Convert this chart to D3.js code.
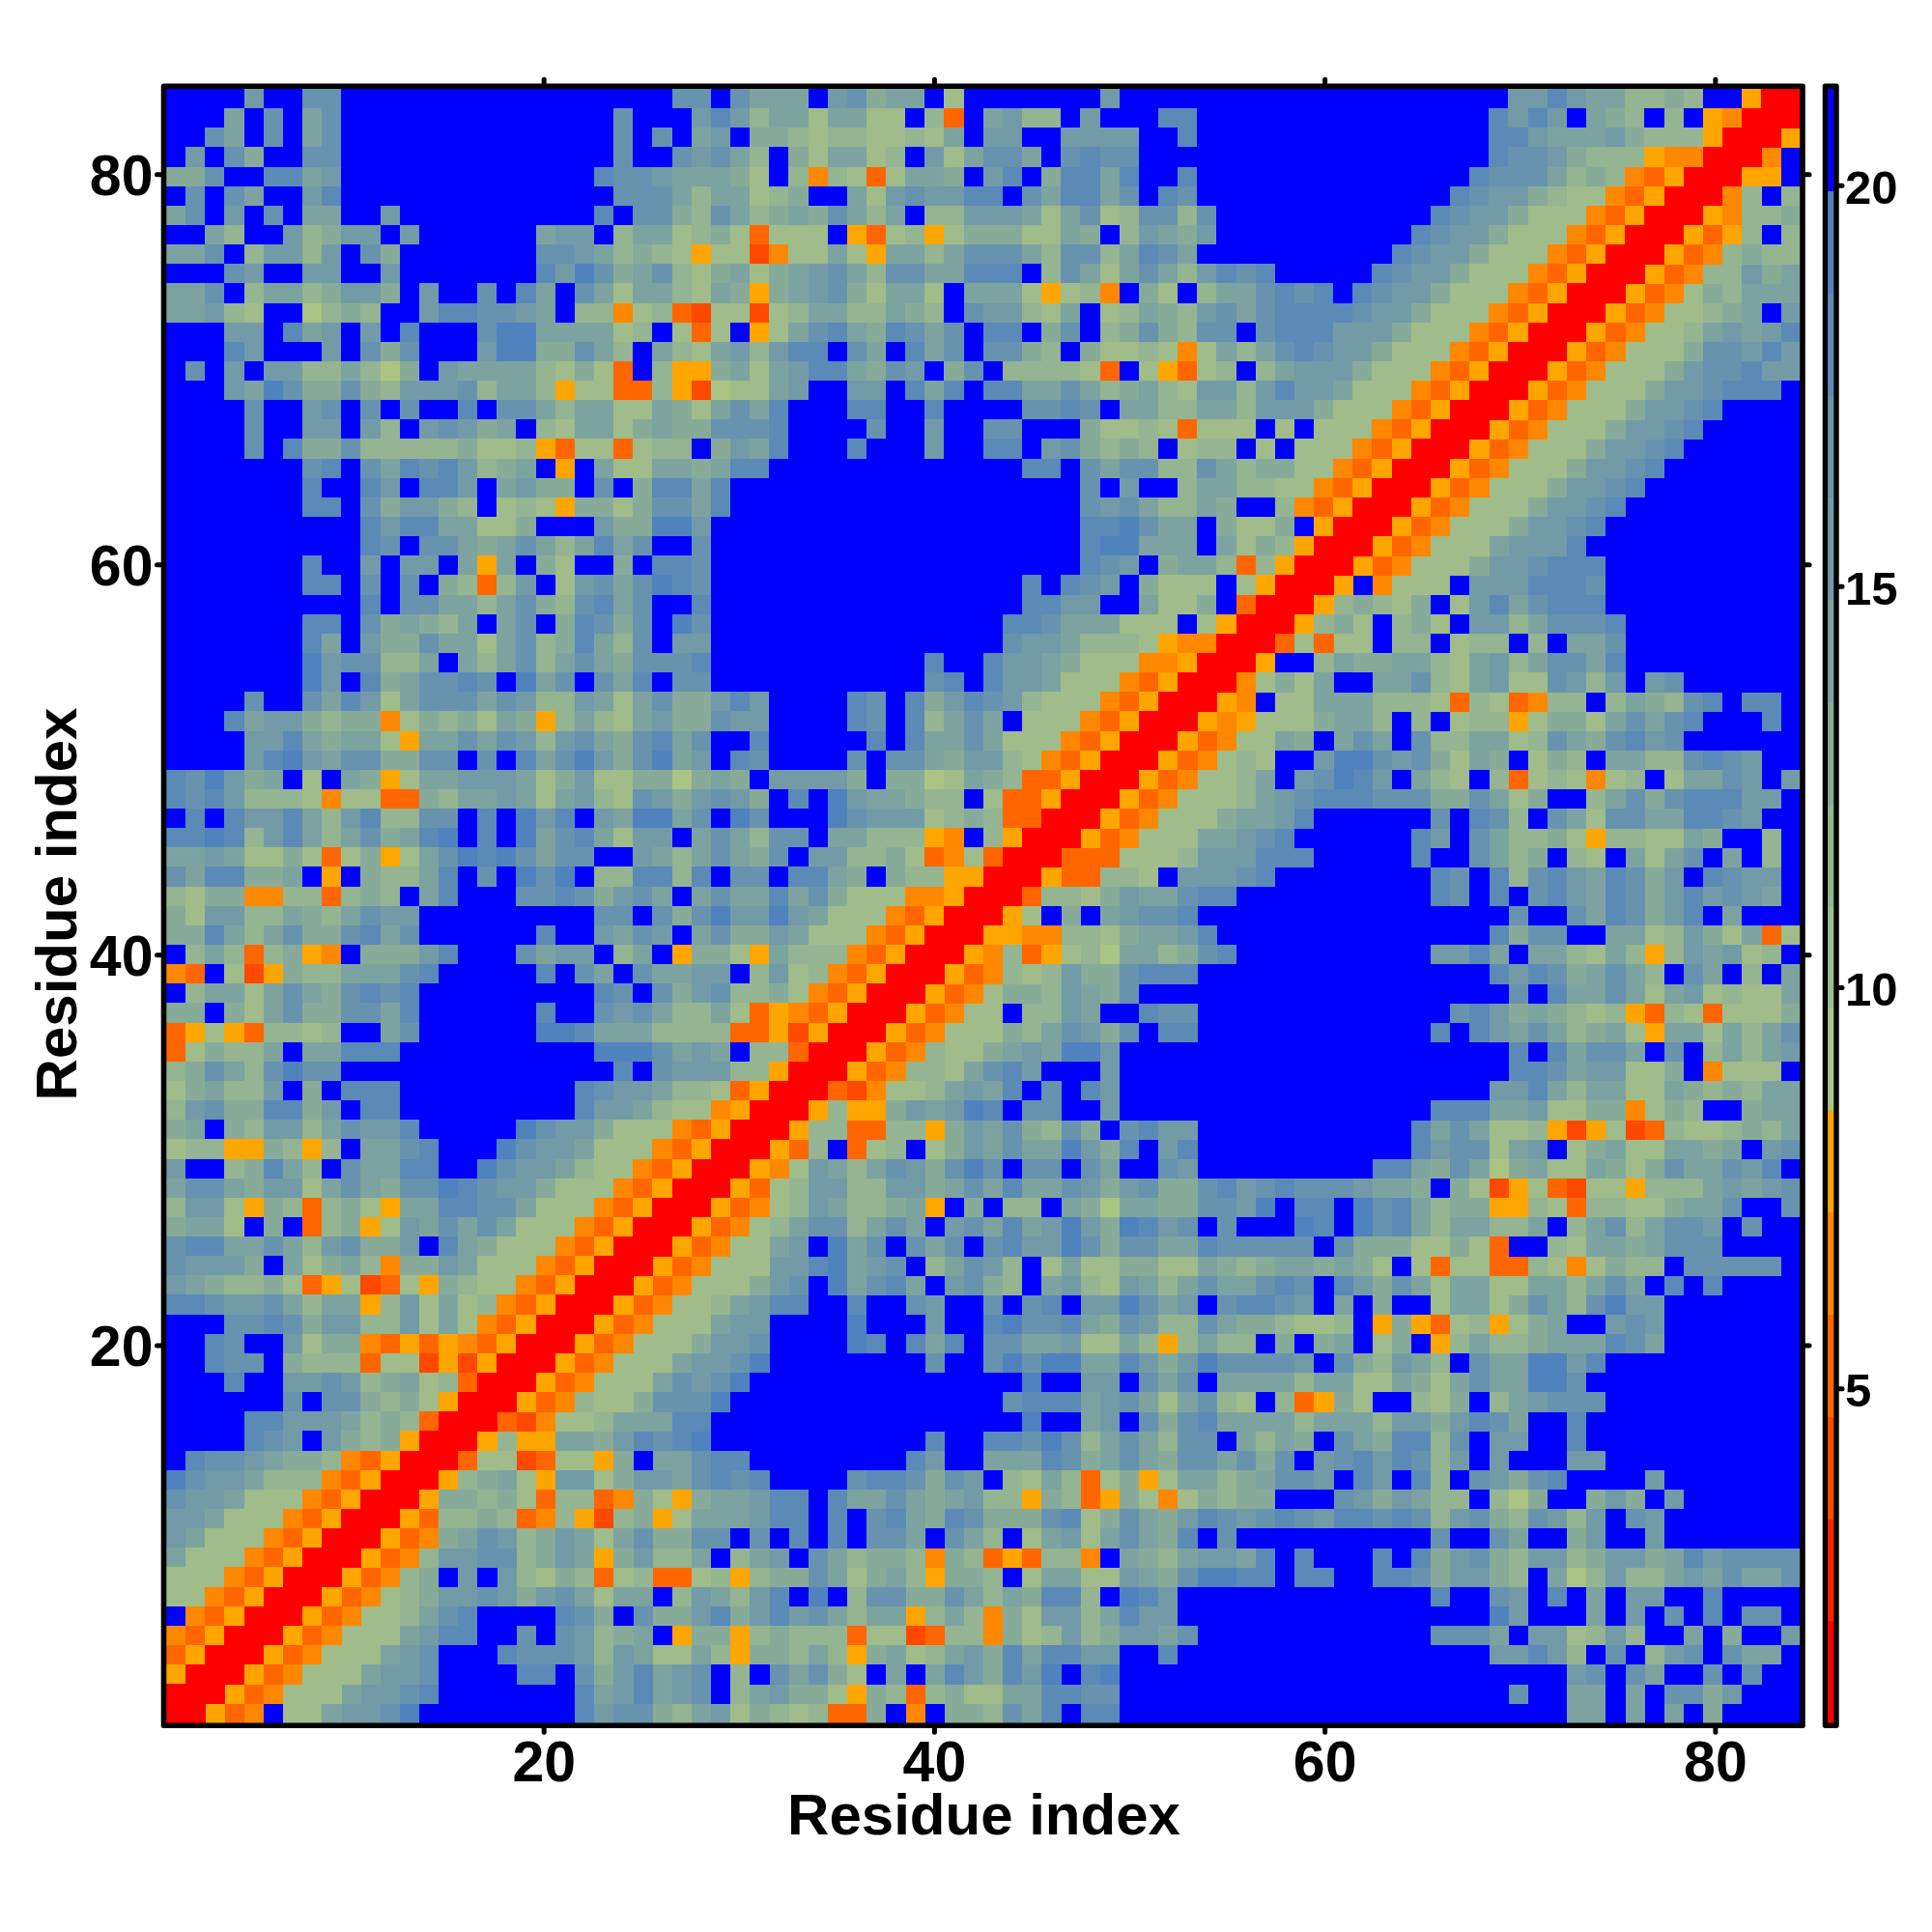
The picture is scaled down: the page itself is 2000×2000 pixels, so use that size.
<!DOCTYPE html>
<html>
<head>
<meta charset="utf-8">
<script src="https://cdn.jsdelivr.net/npm/d3@7"></script>
<style>
html, body { margin: 0; padding: 0; background: #fff; }
text { font-family: "Liberation Sans", Arial, sans-serif; font-weight: bold; fill: #000; }
</style>
</head>
<body>
<svg id="chart" width="2000" height="2000"></svg>
<script>
// one character per cell, one band of the colour key per character
var levelCodes = "rtsdef123456789b";
var xTicks = [20, 40, 60, 80];
var yTicks = [20, 40, 60, 80];
var keyTicks = [5, 10, 15, 20];
var keyRange = [0.83, 21.2];
var residues = d3.range(1, 85);

// upper-left half of the symmetric map, top row (residue 84) first
var rows = [
"bbbb6bb77b bbbbbbbbbb bbbbbb77b7 555b67455b 2bbbbbbb6b bbbbbbbbbb bbbbbbbbb6 6865533 43b bfrr",
"bbb5b7b57b bbbbbbbbbb bbb7bbb686 35525522b3 db5633b6bb b88bbbbbbb bbbbbbbb86 86b5 43b3bf err",
"bb75b7b57b bbbbbbbbbb bbb7b7b56b 4432332232 5b66bb6666 bb8bbbbbbb bbbbbbbb88 6555643 33f rr",
"b6b74bb77b bbbbbbbbbb bbb7bb7675 3b42552 3b6 2577 5b7877 bbbbbbbbbb bbbbbbbb87 7643 33feer r",
"447bb8856b bbbbbbbbbb bb87765554 2b3e32d255 4b68b48858 bb8bbbbbbb bbbbbbb877 75343edfrr",
"b7b75bb68b bbbbbbbbbb bbb7775355 234bb52676 688b758857 b87bbbbbbb bbbbbb8766 4322edfrr",
"57b6b7b55b b6bbbbbbbb bb8b774375 3454753 5b3 3666525723 7737bbbbbb bbbbb87664 222edfrr",
"bb53bb6346 6b6bbbbbb5 66b3552342 d222bfd23f 2444225 4b3 6546bbbbbb bbbb876642 22edfrr",
"557b36636b 74bbbbbbb7 7653432f22 se22 52f553 5777537735 875bbbbbbb bbb8766422 2edfrr",
"bbb76bb66b b6bbbbbbb8 6974573245 2456753775 5888b37525 7536878bbb bb87664222 edfrr",
"557b355346 64b6bb7b85 b752553254 f456742552 b5552f23eb 42b3557878 b876642 22e dfrr",
"5563 2bb134 3bb6887765 b33e23ds22 s235533543 b766325b23 5436757888 876642 22ed frr",
"bbb66b856b 6b8bbb7995 55523b2d2b f257854875 7b88b47b34 74377b7888 66642 22edf rr",
"bbb86bbb6b 747bbb6994 4753b53256 3688b75b85 7b7743b422 32e2535787 66422 2edfr r",
"b7b6b66335 314b655553 242db3ff45 2568854 76b 47b33332db 2fd23b3566 6422 2edfrr",
"bbb6597447 4366673553 f22dd3fs12 256bb66b85 8b88557534 5326636866 5222edfrr",
"bbbb7bb67b 7b7bb8b775 3552254257 58bbb88bb8 bbbb7787b5 5335536664 222edfrr",
"bbbb7bb66b 63b67645b3 2552454477 78bbbb7bb6 bb77bbb422 32d222b2b2 22edfrr",
"bbbb7b8447 333334223f d22d233b46 58bbb8bbb6 bb88b67434 3b233b2b22 2edfrr",
"bbbbbbb78b 7587863 45b fb52255458 8bbbbbbbbb bbbb88b757 7337534 422 edfrr",
"bbbbbbb8bb 86b886b564 4b7b4885 8b bbbbbbbbbb bbbbbbb7b6 bb35533 22e dfrr",
"bbbbbbb88b 746643b232 f44247758b bbbbbbbbbb bbbbbbb767 53354bb3ed frr",
"bbbbbbbbbb 86885 5224b bb64499 6bb bbbbbbbbbb bbbbbbb889 755b4224bf rr",
"bbbbbbbbbb 87b7754575 35857bb7bb bbbbbbbbbb bbbbbbb899 555b5243fr r",
"bbbbbbb8bb 6b66b5f5b4 2bb4b887bb bbbbbbbbbb bbbbbbb876 b4553d3frr",
"bbbbbbb88b 7b7b43d36b 2675798 7bb bbbbbbbbbb bbbb8b876b 4222b2frr",
"bbbbbbbbbb 8b77553574 37857bb8bb bbbbbbbbbb bbbb8866bb 5224bdrr",
"bbbbbbb88b 745435b57b 4874 7b97bb bbbbbbbbbb bbb8875552 22b2frr",
"bbbbbbb85b 6447552573 4853 7b66bb bbbbbbbbbb bbb7665333 2feerr",
"bbbbbbb967 7335b53573 5754777 8bb bbbbbbbbb8 bb86654222 eefrr",
"bbbbbbb96b 84577 87b95 7b758b77bb bbbbbbbbb7 8b8665222e dfrr",
"bbbb7bb758 6257775763 3652574468 6bbbb87b84 6876322 2ed frr",
"bbb8566434 4e2434254f 3532564476 6bbbb87b83 575b222edf rr",
"bbbb668545 52f5575763 6754785 7bb 8bbbbb8b85 575222edfr r",
"bbbb689657 74477b7b85 796479 56b8 7bbbb7b775 46632edfrr",
"879645b2b5 4f25566652 4622441454 b66664b441 2543ddfrr",
"8786333 2e2 2dd4355652 5632764676 4b8b965543 3b2ddfrr",
"b8b8668536 83377b8b96 8b65995 7b9 7bbb976662 343ddrr",
"8898368535 74589b8b95 785 266b575 377b55333f eb3frr",
"5565224 2d2 4f25798975 77bb653575 47b663342d e2drr",
"7588445bfb 43358b7b97 9b33883 8b7 7b8854b433 ffrr",
"3244ee33d3 43b58bbb77 87467 5b575 5857422 2ee frr",
"4266335435 766bbbbbbb bb77b74796 6965222edf rr",
"4485357447 857bbbbbb8 bb6576b574 46522 2edfr r",
"b353d34feb 44468bbb75 66b35bf442 f5333edfrr",
"edb2sf4335 5578bbbbb8 b75b755 66b 3623edfrr",
"b355257547 878bbbbbbb bb87b74673 342edfrr",
"44b4257447 758bbbbbb8 bb76753352 dfedfrr",
"df2fd3323b b57bbbbbb9 9855533 33d dfsfrr",
"d24335b558 88bbbbbbbb bb999756 5b 33drr",
"347537977b bbbbbbbbbb bbb8b76663 3frr",
"245336b4b8 88bbbbbbbb b87665 332d frr",
"367448846b 88bbbbbbbb b866532 2ef rr",
"45b4366357 668bbbbb97 664222edfr r",
"233ff43f3b 5578bbb976 652 22edfrr",
"6bb348 53b7 5588bb9766 5322edfrr",
"5775466257 5477987664 222edfrr",
"3662f43d34 2f55887752 22edfrr",
"4552b4bd34 f265757522 2edfrr",
"7885575367 446b854222 edfrr",
"76664b5245 3e4465222e dfrr",
"654334 2df2 sd2f4322ed frr",
"8876675355 f36252 3edf rr",
"bbb7787466 336252edfr r",
"bb87bb6244 edfdfedfrr",
"bb877b4333 d22sfsfrr",
"bbb8bb6676 3452 3drr",
"bbbbbb7b77 4342frr",
"bbbb886665 343drr",
"bbbb876b64 34frr",
"b877654 43e dfrr",
"9766533 3ed frr",
"7665222edf rr",
"665222edfr r",
"65222edfrr",
"5222edfrr",
"222edfrr",
"22edfrr",
"bedfrr",
"edfrr",
"dfrr",
"frr",
"rr",
"r"
];

var svg = d3.select("#chart");

// colour bands: hot end, then sage fading to steel blue, then pure blue
var hot = ["#ff0000", "#ff2400", "#ff4800", "#ff6600", "#ff8800", "#ffa500"];
var ramp = d3.interpolateRgb("#aac483", "#5082bd");
var cool = d3.range(9).map(function (i) { return ramp(i / 8); });
var palette = hot.concat(cool, ["#0000ff"]);

var colour = d3.scaleQuantize().domain(keyRange).range(palette);
var bandWidth = (keyRange[1] - keyRange[0]) / palette.length;

// decode the rows and mirror them over the diagonal
var cells = [];
rows.forEach(function (row, r) {
    var chars = row.replace(/ /g, "");
    for (var c = 0; c < chars.length; c++) {
        var value = keyRange[0] + (levelCodes.indexOf(chars[c]) + 0.5) * bandWidth;
        var i = residues[c];
        var j = residues[83 - r];
        cells.push({ x: i, y: j, value: value });
        if (i !== j) cells.push({ x: j, y: i, value: value });
    }
});

var left = 172, right = 1863.5, top_ = 92, bottom = 1783.5;

var xBand = d3.scaleBand().domain(residues).range([left, right]);
var yBand = d3.scaleBand().domain(residues).range([bottom, top_]);

// tick scales, the ticks sit a little off the cell centres in the original
var x = d3.scaleLinear().domain([0.67, 84.36]).range([left, right]);
var y = d3.scaleLinear().domain([0.64, 84.37]).range([bottom, top_]);
var keyY = d3.scaleLinear().domain(keyRange).range([bottom, top_]);

svg.append("g").selectAll("rect")
    .data(cells)
    .enter()
    .append("rect")
    .attr("x", function (d) { return xBand(d.x); })
    .attr("y", function (d) { return yBand(d.y); })
    .attr("width", xBand.bandwidth() + 0.3)
    .attr("height", yBand.bandwidth() + 0.3)
    .attr("fill", function (d) { return colour(d.value); })
    .attr("shape-rendering", "crispEdges");

// axes
function styleAxis(g) {
    g.select(".domain").remove();
    g.selectAll(".tick line")
        .attr("stroke", "#000")
        .attr("stroke-width", 5)
        .attr("stroke-linecap", "round");
}

var frameLeft = 169.5, frameRight = 1866, frameTop = 89.3, frameBottom = 1786.2;

var bottomAxis = svg.append("g")
    .attr("transform", "translate(0," + frameBottom + ")")
    .call(d3.axisBottom(x).tickValues(xTicks).tickSize(7).tickPadding(9))
    .call(styleAxis);
bottomAxis.selectAll("text")
    .style("font-size", "59px");

svg.append("g")
    .attr("transform", "translate(0," + frameTop + ")")
    .call(d3.axisTop(x).tickValues(xTicks).tickSize(7).tickFormat(""))
    .call(styleAxis);

var leftAxis = svg.append("g")
    .attr("transform", "translate(" + frameLeft + ",0)")
    .call(d3.axisLeft(y).tickValues(yTicks).tickSize(7).tickPadding(4))
    .call(styleAxis);
leftAxis.selectAll("text")
    .attr("dy", "0.36em")
    .style("font-size", "59px");

svg.append("g")
    .attr("transform", "translate(" + frameRight + ",0)")
    .call(d3.axisRight(y).tickValues(yTicks).tickSize(7).tickFormat(""))
    .call(styleAxis);

svg.append("rect")
    .attr("x", frameLeft)
    .attr("y", frameTop)
    .attr("width", frameRight - frameLeft)
    .attr("height", frameBottom - frameTop)
    .attr("fill", "none")
    .attr("stroke", "#000")
    .attr("stroke-width", 5.6)
    .attr("stroke-linejoin", "round");

svg.append("text")
    .attr("x", 1018.5)
    .attr("y", 1899)
    .attr("text-anchor", "middle")
    .style("font-size", "60px")
    .text("Residue index");

svg.append("text")
    .attr("transform", "translate(79,936) rotate(-90)")
    .attr("text-anchor", "middle")
    .style("font-size", "60px")
    .text("Residue index");

// colour key
var keyBands = d3.range(palette.length).map(function (i) { return keyRange[0] + i * bandWidth; });

svg.append("g").selectAll("rect")
    .data(keyBands)
    .enter()
    .append("rect")
    .attr("x", 1892)
    .attr("width", 6.5)
    .attr("y", function (d) { return keyY(d + bandWidth); })
    .attr("height", keyY(keyRange[0]) - keyY(keyRange[0] + bandWidth) + 0.5)
    .attr("fill", function (d) { return colour(d + bandWidth / 2); })
    .attr("shape-rendering", "crispEdges");

var keyAxis = svg.append("g")
    .attr("transform", "translate(1901,0)")
    .call(d3.axisRight(keyY).tickValues(keyTicks).tickSize(6).tickPadding(3))
    .call(styleAxis);
keyAxis.selectAll("text")
    .attr("dy", "0.38em")
    .style("font-size", "49px");

svg.append("rect")
    .attr("x", 1889.4)
    .attr("y", frameTop)
    .attr("width", 11.6)
    .attr("height", frameBottom - frameTop)
    .attr("fill", "none")
    .attr("stroke", "#000")
    .attr("stroke-width", 5.4)
    .attr("stroke-linejoin", "round");
</script>
</body>
</html>
